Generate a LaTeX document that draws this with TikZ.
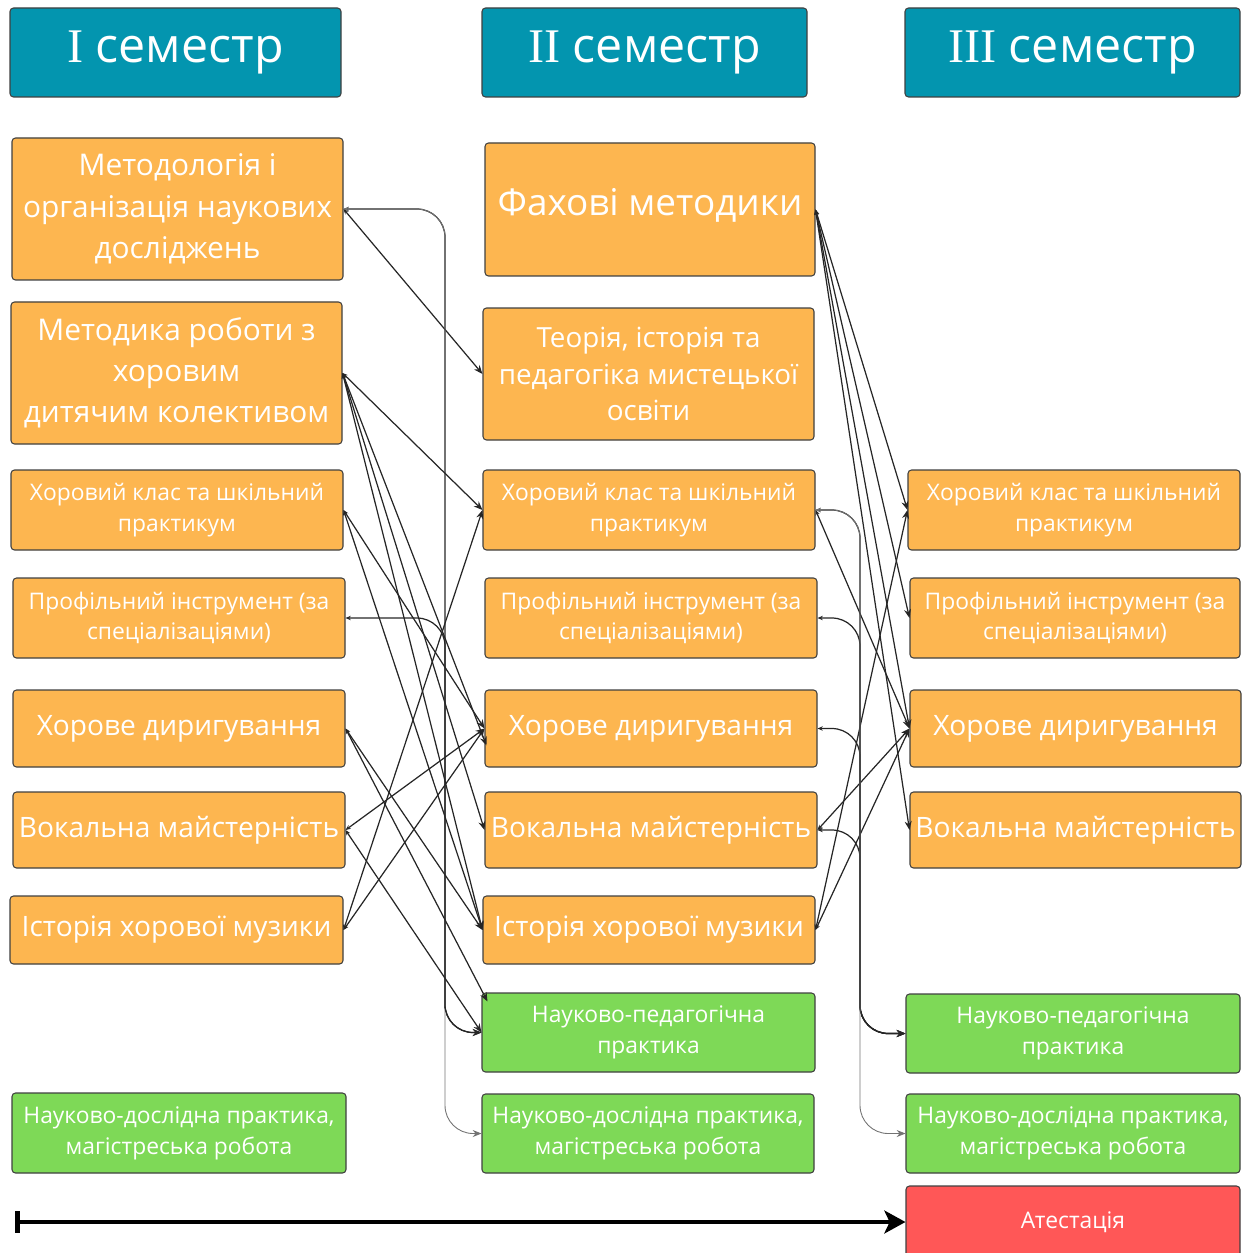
\documentclass[tikz,border=0pt]{standalone}
\usepackage{fontspec}
\setmainfont{Open Sans}
\newfontfamily\numfont{Liberation Serif}
\usetikzlibrary{arrows.meta}

\definecolor{semblue}{RGB}{3,149,175}
\definecolor{subjorange}{RGB}{253,182,80}
\definecolor{pracgreen}{RGB}{126,217,87}
\definecolor{attred}{RGB}{255,87,87}

\begin{document}
\begin{tikzpicture}[x=0.02cm, y=-0.02cm,
  box/.style={draw=black!75, line width=0.6pt, rounded corners=2pt, text=white, align=center, inner sep=0pt},
  sz/.style 2 args={minimum width=#1*0.02cm, minimum height=#2*0.02cm},
  hdr/.style={box, fill=semblue, font=\fontsize{27.5}{32}\selectfont},
  subj/.style={box, fill=subjorange},
  prac/.style={box, fill=pracgreen},
  big/.style={font=\fontsize{16}{23}\selectfont},
  small/.style={font=\fontsize{13}{17.5}\selectfont},
  con/.style={draw=black!85, line width=0.7pt, arrows={Stealth[length=3pt,width=2.5pt]-Stealth[length=5pt,width=4pt]}},
  bus/.style={con, rounded corners=16pt}]
\useasboundingbox (0,0) rectangle (1244,1253);

% semesters
\node[hdr, sz={331}{89}] (H1) at (175.5,52.5) {{\numfont I} семестр};
\node[hdr, sz={325}{89}] (H2) at (644.5,52.5) {{\numfont II} семестр};
\node[hdr, sz={335}{89}] (H3) at (1072.5,52.5) {{\numfont III} семестр};

% first semester
\node[subj, font=\fontsize{17}{23.5}\selectfont, sz={331}{142}] (L1) at (177.5,209) {Методологія і\\організація наукових\\досліджень};
\node[subj, font=\fontsize{17}{23.5}\selectfont, sz={331}{142}] (L2) at (176.5,373) {Методика роботи з\\хоровим\\дитячим колективом};
\node[subj, small, sz={332}{80}] (L3) at (177,510) {Хоровий клас та шкільний\\практикум};
\node[subj, small, sz={332}{80}] (L4) at (179,618) {Профільний інструмент (за\\спеціалізаціями)};
\node[subj, big, sz={332}{77}] (L5) at (179,728.5) {Хорове диригування};
\node[subj, big, sz={332}{76}] (L6) at (179,830) {Вокальна майстерність};
\node[subj, big, sz={333}{68}] (L7) at (176.5,930) {Історія хорової музики};
\node[prac, small, sz={334}{80}] (L8) at (179,1133) {Науково-дослідна практика,\\магістреська робота};

% second semester
\node[subj, font=\fontsize{21}{26}\selectfont, sz={330}{133}, text depth=9pt] (M1) at (650,209.5) {Фахові методики};
\node[subj, font=\fontsize{15.8}{21}\selectfont, sz={331}{132}] (M2) at (648.5,374) {Теорія, історія та\\педагогіка мистецької\\освіти};
\node[subj, small, sz={332}{80}] (M3) at (649,510) {Хоровий клас та шкільний\\практикум};
\node[subj, small, sz={332}{80}] (M4) at (651,618) {Профільний інструмент (за\\спеціалізаціями)};
\node[subj, big, sz={332}{77}] (M5) at (651,728.5) {Хорове диригування};
\node[subj, big, sz={332}{76}] (M6) at (651,830) {Вокальна майстерність};
\node[subj, big, sz={332}{68}] (M7) at (649,930) {Історія хорової музики};
\node[prac, small, sz={333}{79}] (M8) at (648.5,1032.5) {Науково-педагогічна\\практика};
\node[prac, small, sz={332}{79}] (M9) at (648,1133.5) {Науково-дослідна практика,\\магістреська робота};

% third semester
\node[subj, small, sz={332}{80}] (R1) at (1074,510) {Хоровий клас та шкільний\\практикум};
\node[subj, small, sz={330}{80}] (R2) at (1075,618) {Профільний інструмент (за\\спеціалізаціями)};
\node[subj, big, sz={331}{77}] (R3) at (1075.5,728.5) {Хорове диригування};
\node[subj, big, sz={331}{76}] (R4) at (1075.5,830) {Вокальна майстерність};
\node[prac, small, sz={334}{79}] (R5) at (1073,1033.5) {Науково-педагогічна\\практика};
\node[prac, small, sz={334}{79}] (R6) at (1073,1133.5) {Науково-дослідна практика,\\магістреська робота};
\node[box, fill=attred, small, sz={334}{72}] (R7) at (1073,1222) {Атестація};

\coordinate (busL) at (445,980);
\coordinate (busR) at (860,980);
\coordinate (tstart) at (15,1222);

% I -> II
\draw[con] (L1.east) -- (M2.west);
\draw[bus] (L1.east) -| (busL) |- (M8.west);
\draw[bus, line width=0.5pt, draw=black!55] (L1.east) -| (busL) |- (M9.west);
\draw[bus] (L4.east) -| (busL) |- (M8.west);
\foreach \t in {M3,M6,M7}
  \draw[con] (L2.east) -- (\t.west);
\draw[con] (L2.east) -- ([shift={(2,17)}]M5.west);
\draw[con] (L3.east) -- (M5.west);
\draw[con] (L3.east) -- (M7.west);
\draw[con] (L5.east) -- (M7.west);
\draw[con] (L5.east) -- ([shift={(6,9)}]M8.north west);
\draw[con] (L6.east) -- (M5.west);
\draw[con] (L6.east) -- (M8.west);
\draw[con] (L7.east) -- (M3.west);
\draw[con] (L7.east) -- (M5.west);

% II -> III
\foreach \t in {R1,R2,R3,R4}
  \draw[con] (M1.east) -- (\t.west);
\draw[con] (M3.east) -- (R3.west);
\draw[con] (M6.east) -- (R3.west);
\draw[con] (M7.east) -- (R1.west);
\draw[con] (M7.east) -- (R3.west);
\foreach \s in {M3,M4,M5,M6}
  \draw[bus] (\s.east) -| (busR) |- (R5.west);
\draw[bus, line width=0.5pt, draw=black!55] (M3.east) -| (busR) |- (R6.west);

% time line
\draw[line width=2.6pt, arrows={Bar[width=12pt]-Stealth[length=12pt,width=13pt,inset=3pt]}] (tstart) -- (R7.west);
\end{tikzpicture}
\end{document}
